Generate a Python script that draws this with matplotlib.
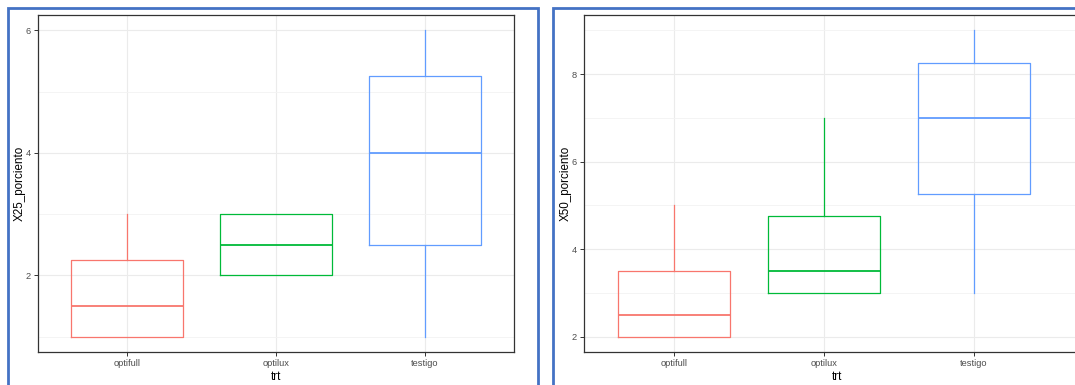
import matplotlib
matplotlib.use('Agg')
import matplotlib.pyplot as plt
from matplotlib.patches import Rectangle

plt.rcParams['font.family'] = ['Liberation Sans', 'DejaVu Sans']

# grupos y colores (paleta por defecto de ggplot)
trt = ['optifull', 'optilux', 'testigo']
colores = ['#F8766D', '#00BA38', '#619CFF']

# X25_porciento: bigote inferior, Q1, mediana, Q3, bigote superior
x25_low = [1.0, 2.0, 1.0]
x25_q1 = [1.0, 2.0, 2.5]
x25_med = [1.5, 2.5, 4.0]
x25_q3 = [2.25, 3.0, 5.25]
x25_high = [3.0, 3.0, 6.0]

# X50_porciento
x50_low = [2.0, 3.0, 3.0]
x50_q1 = [2.0, 3.0, 5.25]
x50_med = [2.5, 3.5, 7.0]
x50_q3 = [3.5, 4.75, 8.25]
x50_high = [5.0, 7.0, 9.0]

W, H = 1075, 385
fig = plt.figure(figsize=(W / 100, H / 100), dpi=100)
fig.patch.set_facecolor('white')


def px(x0, y0, x1, y1):
    # caja en pixeles (origen arriba-izquierda) -> fracciones de figura
    return [x0 / W, 1 - y1 / H, (x1 - x0) / W, (y1 - y0) / H]


def caja(ax, low, q1, med, q3, high, ylab, ylim, xlim, mayor, menor):
    stats = []
    for i in range(len(trt)):
        stats.append({'whislo': low[i], 'q1': q1[i], 'med': med[i],
                      'q3': q3[i], 'whishi': high[i], 'fliers': []})
    b = ax.bxp(stats, positions=[1, 2, 3], widths=0.75, showcaps=False,
               patch_artist=False, manage_ticks=False, zorder=3)
    for i, c in enumerate(colores):
        b['boxes'][i].set(color=c, linewidth=0.9)
        b['medians'][i].set(color=c, linewidth=1.3)
        for w in b['whiskers'][2 * i:2 * i + 2]:
            w.set(color=c, linewidth=0.9)
    ax.set_xlim(*xlim)
    ax.set_ylim(*ylim)
    ax.set_xticks([1, 2, 3])
    ax.set_xticklabels(trt)
    ax.set_yticks(mayor)
    ax.set_yticks(menor, minor=True)
    ax.grid(True, which='major', color='#EBEBEB', linewidth=0.8, zorder=0)
    ax.grid(True, which='minor', axis='y', color='#F3F3F3', linewidth=0.6, zorder=0)
    ax.set_axisbelow(True)
    for s in ax.spines.values():
        s.set_color('#333333')
        s.set_linewidth(0.9)
    ax.tick_params(which='major', length=3, width=0.7, color='#333333',
                   labelcolor='#4D4D4D', labelsize=6.7, pad=2)
    ax.tick_params(which='minor', length=0)
    ax.set_xlabel('trt', fontsize=8.4, labelpad=2)
    ax.set_ylabel(ylab, fontsize=8.4, labelpad=0)


ax1 = fig.add_axes(px(38, 15, 514, 352))
caja(ax1, x25_low, x25_q1, x25_med, x25_q3, x25_high, 'X25_porciento',
     (0.75, 6.25), (0.4, 3.6), [2, 4, 6], [1, 3, 5])

ax2 = fig.add_axes(px(584, 15, 1090, 352))
caja(ax2, x50_low, x50_q1, x50_med, x50_q3, x50_high, 'X50_porciento',
     (1.65, 9.35), (0.4, 0.4 + (1090 - 584) / 150), [2, 4, 6, 8], [3, 5, 7, 9])

# marcos azules de la captura
for x0, x1 in [(8, 538), (553, 1095)]:
    r = Rectangle((x0 / W, -0.05), (x1 - x0) / W, 1.05 - 8 / H,
                  transform=fig.transFigure, fill=False, edgecolor='#4472C4',
                  linewidth=2.0, clip_on=False, zorder=10)
    fig.add_artist(r)

fig.savefig('out.png', dpi=100)
